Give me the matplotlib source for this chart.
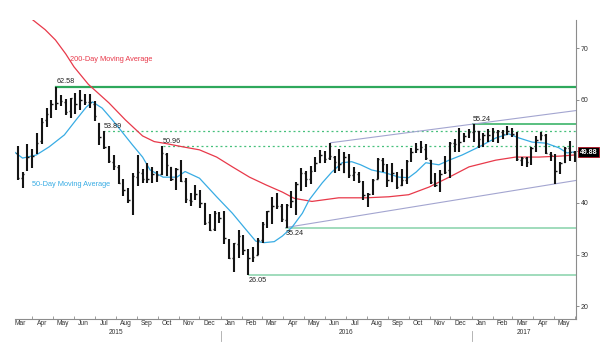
import pandas as pd
import matplotlib
matplotlib.use("Agg")
import matplotlib.pyplot as plt
import matplotlib.dates as mdates
import matplotlib.transforms as mtransforms

plt.rcParams["font.family"] = ["Liberation Sans", "DejaVu Sans"]

# weekly OHLC bars, the first bar is the week starting 2015-03-09
first_week = "2015-03-09"
opens = [
    # 2015
    49.6, 44.9, 46.5, 48.6, 50.0, 52.0, 56.0, 57.0, 59.0, 59.6, 59.6, 57.8, 60.2, 59.0, 59.9,
    59.6, 59.2, 55.5, 52.7, 50.9, 48.0, 46.9, 44.0, 42.3, 40.2, 45.0, 45.8, 44.6, 45.5, 45.4,
    45.6, 49.4, 46.9, 44.5, 46.2, 44.2, 40.6, 40.9, 41.6, 39.9, 36.3, 34.9, 38.0,
    # 2016
    37.6, 32.9, 29.3, 32.0, 33.3, 30.7, 29.5, 30.0, 32.9, 36.0, 38.2, 39.6, 39.4, 36.6, 39.7,
    38.2, 43.5, 45.9, 44.7, 46.3, 48.0, 49.3, 48.7, 49.0, 48.3, 46.0, 48.9, 45.4, 45.7, 44.0,
    41.5, 41.9, 44.7, 48.4, 47.4, 44.3, 45.7, 43.4, 44.4, 48.5, 50.2, 50.3, 50.5, 48.3, 44.9,
    43.3, 46.0, 46.3, 51.7, 53.0, 52.0, 53.0,
    # 2017
    53.7, 54.0, 52.4, 53.0, 53.2, 53.8, 53.8, 53.4, 54.0, 53.3, 48.4, 48.8, 48.0, 50.6, 52.3,
    53.2, 49.5, 49.3, 46.2, 48.0, 50.7, 49.8,
]
highs = [
    51.0, 46.0, 51.5, 50.5, 53.5, 56.5, 58.5, 59.9, 62.58, 61.0, 60.2, 60.4, 61.3, 61.9, 61.2,
    61.1, 59.7, 55.6, 53.89, 51.0, 49.3, 47.4, 44.7, 42.9, 45.9, 49.3, 46.6, 47.7, 47.0, 46.2,
    50.96, 49.6, 47.0, 46.7, 48.4, 44.9, 42.0, 43.4, 42.6, 40.0, 37.9, 38.4, 38.3,
    38.4, 33.0, 32.3, 34.8, 33.7, 31.0, 31.5, 33.3, 36.3, 38.5, 41.2, 41.9, 39.8, 39.8, 42.4,
    44.0, 46.8, 46.2, 47.2, 49.0, 50.2, 50.0, 51.67, 49.2, 50.5, 49.9, 49.4, 47.0, 46.0, 44.2,
    42.0, 44.6, 48.75, 48.7, 47.5, 47.7, 46.0, 46.5, 48.3, 50.7, 51.6, 51.93, 51.4, 48.4, 45.9,
    46.4, 49.2, 51.9, 52.4, 54.5, 53.6, 54.3,
    55.24, 54.0, 53.6, 54.3, 54.5, 54.1, 54.1, 54.9, 54.6, 53.8, 49.0, 49.0, 50.8, 52.9, 53.76,
    53.3, 49.9, 49.4, 48.0, 50.8, 52.0, 50.0,
]
lows = [
    44.4, 42.9, 46.2, 46.7, 49.5, 51.5, 54.8, 56.5, 58.0, 58.8, 57.0, 56.5, 57.3, 58.1, 58.9,
    58.4, 55.9, 51.3, 50.4, 47.8, 46.4, 43.7, 41.4, 39.9, 37.75, 43.2, 43.9, 43.8, 43.9, 44.1,
    45.4, 45.2, 44.3, 42.6, 44.0, 40.0, 39.5, 40.5, 39.1, 35.8, 34.6, 34.5, 36.1,
    32.1, 29.1, 26.6, 29.3, 29.9, 26.05, 28.6, 29.9, 32.3, 35.2, 35.9, 38.9, 36.3, 35.24, 39.1,
    37.6, 42.4, 43.0, 43.6, 46.1, 47.7, 47.8, 48.3, 45.8, 46.2, 45.8, 44.8, 44.2, 43.8, 40.6,
    39.2, 41.5, 44.6, 46.0, 43.0, 44.0, 42.8, 43.2, 43.7, 48.0, 49.6, 49.6, 48.4, 43.6, 43.0,
    42.2, 45.7, 44.8, 49.9, 49.9, 51.9, 52.6,
    51.9, 50.7, 50.9, 51.9, 51.9, 51.6, 52.5, 53.2, 52.7, 48.2, 47.1, 47.0, 47.3, 49.8, 52.3,
    49.5, 48.2, 43.76, 45.6, 47.8, 48.2, 48.0,
]
closes = [
    44.8, 45.7, 48.9, 49.1, 51.6, 55.7, 57.2, 59.1, 59.4, 59.7, 57.7, 60.3, 59.1, 60.0, 59.6,
    59.6, 56.9, 52.7, 50.9, 48.1, 47.1, 43.9, 42.5, 40.5, 45.2, 46.1, 44.6, 44.7, 45.7, 45.5,
    49.6, 47.3, 44.6, 46.6, 44.3, 40.7, 40.4, 41.7, 39.9, 36.1, 34.8, 38.1, 37.0,
    33.2, 29.4, 32.2, 33.6, 30.9, 29.4, 29.6, 32.8, 35.9, 38.4, 39.4, 39.5, 36.8, 39.7, 40.4,
    43.7, 45.9, 44.7, 46.2, 47.8, 49.3, 48.6, 49.1, 48.0, 47.6, 49.0, 45.4, 46.0, 44.2, 41.6,
    41.8, 44.5, 48.5, 47.6, 44.4, 45.9, 43.0, 44.5, 48.2, 49.8, 50.4, 50.9, 48.7, 44.1, 43.4,
    45.7, 46.1, 51.7, 51.5, 51.9, 53.0, 53.7,
    54.0, 52.4, 53.2, 53.2, 53.8, 53.9, 53.4, 54.0, 53.3, 48.5, 48.8, 48.0, 50.6, 52.2, 53.2,
    49.6, 49.3, 46.2, 47.8, 50.7, 49.8, 49.88,
]

# 50-day and 200-day moving averages sampled along the chart
ma50_dates = [
    "2015-03-06", "2015-03-18", "2015-04-07", "2015-04-26", "2015-05-18", "2015-06-04",
    "2015-06-19", "2015-06-28", "2015-07-12", "2015-07-27", "2015-08-10", "2015-08-25",
    "2015-09-09", "2015-09-20", "2015-10-09", "2015-10-29", "2015-11-10", "2015-12-01",
    "2015-12-26", "2016-01-18", "2016-02-07", "2016-02-21", "2016-03-04", "2016-03-19",
    "2016-03-31", "2016-04-14", "2016-04-29", "2016-05-09", "2016-05-28", "2016-06-11",
    "2016-06-26", "2016-07-10", "2016-07-23", "2016-08-08", "2016-08-29", "2016-09-17",
    "2016-10-01", "2016-10-12", "2016-10-26", "2016-11-14", "2016-11-29", "2016-12-18",
    "2017-01-12", "2017-02-05", "2017-02-24", "2017-03-11", "2017-03-30", "2017-04-19",
    "2017-05-08", "2017-05-20", "2017-05-30",
]
ma50_values = [
    49.9, 48.7, 49.3, 50.9, 53.2, 56.1,
    58.6, 59.6, 58.4, 56.1, 53.8, 51.3,
    48.9, 46.4, 45.0, 45.0, 46.1, 44.8,
    41.2, 38.0, 34.8, 32.6, 32.3, 32.5,
    33.6, 35.3, 38.0, 40.6, 43.9, 46.0,
    47.8, 48.0, 47.4, 46.4, 45.8, 45.0,
    44.9, 46.0, 47.8, 47.4, 48.3, 49.3,
    50.9, 52.6, 53.4, 52.6, 51.8, 51.6,
    50.7, 49.7, 49.9,
]
ma200_dates = [
    "2015-04-01", "2015-04-20", "2015-05-05", "2015-05-20", "2015-06-01", "2015-06-22",
    "2015-07-22", "2015-08-15", "2015-09-09", "2015-09-26", "2015-10-14", "2015-11-06",
    "2015-12-01", "2015-12-26", "2016-01-18", "2016-02-12", "2016-03-07", "2016-03-31",
    "2016-04-17", "2016-05-13", "2016-06-21", "2016-07-31", "2016-09-02", "2016-10-01",
    "2016-10-31", "2016-11-29", "2016-12-28", "2017-02-05", "2017-03-06", "2017-04-09",
    "2017-05-12", "2017-05-30",
]
ma200_values = [
    75.6, 73.6, 71.6, 68.9, 66.4, 63.0,
    59.4, 56.1, 53.0, 51.9, 51.5, 50.9,
    50.3, 48.9, 47.0, 45.0, 43.5, 42.1,
    40.9, 40.3, 41.0, 41.0, 41.2, 41.6,
    43.1, 45.0, 47.0, 48.3, 48.9, 48.9,
    49.1, 49.3,
]

# horizontal support / resistance levels and the day each one starts
level_values = [62.58, 55.24, 53.89, 50.96, 35.24, 26.05]
level_starts = ["2015-05-06", "2017-01-03", "2015-07-14", "2015-10-09", "2016-04-05", "2016-02-11"]

# trend channel, two anchor points per line
channel_upper_dates = ["2016-06-09", "2017-01-03"]
channel_upper_values = [51.67, 55.3]
channel_lower_dates = ["2016-04-05", "2017-05-05"]
channel_lower_values = [35.24, 43.76]

y_ticks = [20, 30, 40, 50, 60, 70]
last_price = closes[-1]

x_start = pd.Timestamp("2015-03-07")
x_end = pd.Timestamp("2017-06-02")

fig = plt.figure(figsize=(6, 3.43), dpi=100)
ax = fig.add_axes([0.025, 0.07, 0.935, 0.872])

# --- price bars ---
weeks = pd.date_range(first_week, periods=len(closes), freq="W-MON") + pd.Timedelta(days=2)
xb = mdates.date2num(weeks)
bar_col = "#141414"
ax.vlines(xb, lows, highs, color=bar_col, lw=1.5, zorder=4)
ax.hlines(opens, xb - 2.0, xb, color=bar_col, lw=1.0, zorder=4)
ax.hlines(closes, xb, xb + 2.0, color=bar_col, lw=1.0, zorder=4)

# --- moving averages ---
ax.plot(pd.to_datetime(ma200_dates), ma200_values, color="#e8394a", lw=0.9, zorder=3)
ax.plot(pd.to_datetime(ma50_dates), ma50_values, color="#38ace4", lw=0.9, zorder=3)

# --- levels ---
level_styles = [
    dict(color="#2ea85c", lw=1.6, ls="-"),
    dict(color="#3cb46a", lw=1.2, ls="-"),
    dict(color="#46c07c", lw=0.9, ls=(0, (1.6, 2.2))),
    dict(color="#46c07c", lw=0.9, ls=(0, (1.6, 2.2))),
    dict(color="#86d2aa", lw=1.1, ls="-"),
    dict(color="#86d2aa", lw=1.1, ls="-"),
]
label_above = [True, True, True, True, False, False]
end_num = mdates.date2num(x_end)
for val, start, style, above in zip(level_values, level_starts, level_styles, label_above):
    s = mdates.date2num(pd.Timestamp(start))
    ax.plot([s, end_num], [val, val], zorder=2, **style)
    ax.annotate(f"{val:.2f}", xy=(s, val), xytext=(0, 1.0 if above else -1.5),
                textcoords="offset points", ha="left",
                va="bottom" if above else "top", fontsize=5.2, color="#222222", zorder=5)

# --- trend channel ---
def channel(dates, values):
    d = mdates.date2num(pd.to_datetime(dates))
    slope = (values[1] - values[0]) / (d[1] - d[0])
    return [d[0], end_num], [values[0], values[0] + slope * (end_num - d[0])]

for dates, values in [(channel_upper_dates, channel_upper_values),
                      (channel_lower_dates, channel_lower_values)]:
    cx, cy = channel(dates, values)
    ax.plot(cx, cy, color="#a3a5d0", lw=0.8, zorder=2)

# --- labels for the averages ---
ax.text(pd.Timestamp("2015-05-26"), 67.8, "200-Day Moving Average", color="#e8394a",
        fontsize=5.3, va="center", ha="left")
ax.text(pd.Timestamp("2015-04-01"), 43.5, "50-Day Moving Average", color="#38ace4",
        fontsize=5.3, va="center", ha="left")

# --- axes ---
ax.set_xlim(x_start, x_end)
ax.set_ylim(17.5, 75.5)
for side in ["left", "top"]:
    ax.spines[side].set_visible(False)
for side in ["bottom", "right"]:
    ax.spines[side].set_color("#8c8c8c")
    ax.spines[side].set_linewidth(0.8)

# the price tag sits over the 50 tick, so that label stays blank
ax.yaxis.tick_right()
ax.set_yticks(y_ticks)
ax.set_yticklabels(["" if t == 50 else str(t) for t in y_ticks])
ax.tick_params(axis="y", direction="out", length=2, width=0.7, colors="#8c8c8c",
               labelcolor="#333333", labelsize=5, pad=1.5)

ax.xaxis.set_major_locator(mdates.MonthLocator())
ax.xaxis.set_major_formatter(plt.NullFormatter())
ax.xaxis.set_minor_locator(mdates.MonthLocator(bymonthday=15))
ax.xaxis.set_minor_formatter(mdates.DateFormatter("%b"))
ax.tick_params(axis="x", which="major", direction="in", length=2, width=0.6, colors="#8c8c8c")
ax.tick_params(axis="x", which="minor", length=0, labelsize=4.8, labelcolor="#333333", pad=1)

# year labels under the months, plus separators at each new year
trans = mtransforms.blended_transform_factory(ax.transData, ax.transAxes)
year_spans = [("2015", pd.Timestamp("2015-03-01"), pd.Timestamp("2016-01-01")),
              ("2016", pd.Timestamp("2016-01-01"), pd.Timestamp("2017-01-01")),
              ("2017", pd.Timestamp("2017-01-01"), x_end)]
for label, a, b in year_spans:
    mid = a + (b - a) / 2
    ax.text(mid, -0.046, label, transform=trans, ha="center", va="center",
            fontsize=4.8, color="#333333")
for new_year in ["2016-01-01", "2017-01-01"]:
    ax.plot([pd.Timestamp(new_year)] * 2, [-0.04, -0.075], transform=trans,
            color="#a8a8a8", lw=0.6, clip_on=False)

# last price tag on the price axis
ax.annotate(f"{last_price:.2f}", xy=(1.0, last_price), xycoords=("axes fraction", "data"),
            xytext=(2.5, 0), textcoords="offset points", ha="left", va="center",
            fontsize=5, color="white", fontweight="bold", zorder=10,
            bbox=dict(boxstyle="square,pad=0.25", fc="black", ec="#b01020", lw=0.6))

fig.savefig("out.png", dpi=100)
